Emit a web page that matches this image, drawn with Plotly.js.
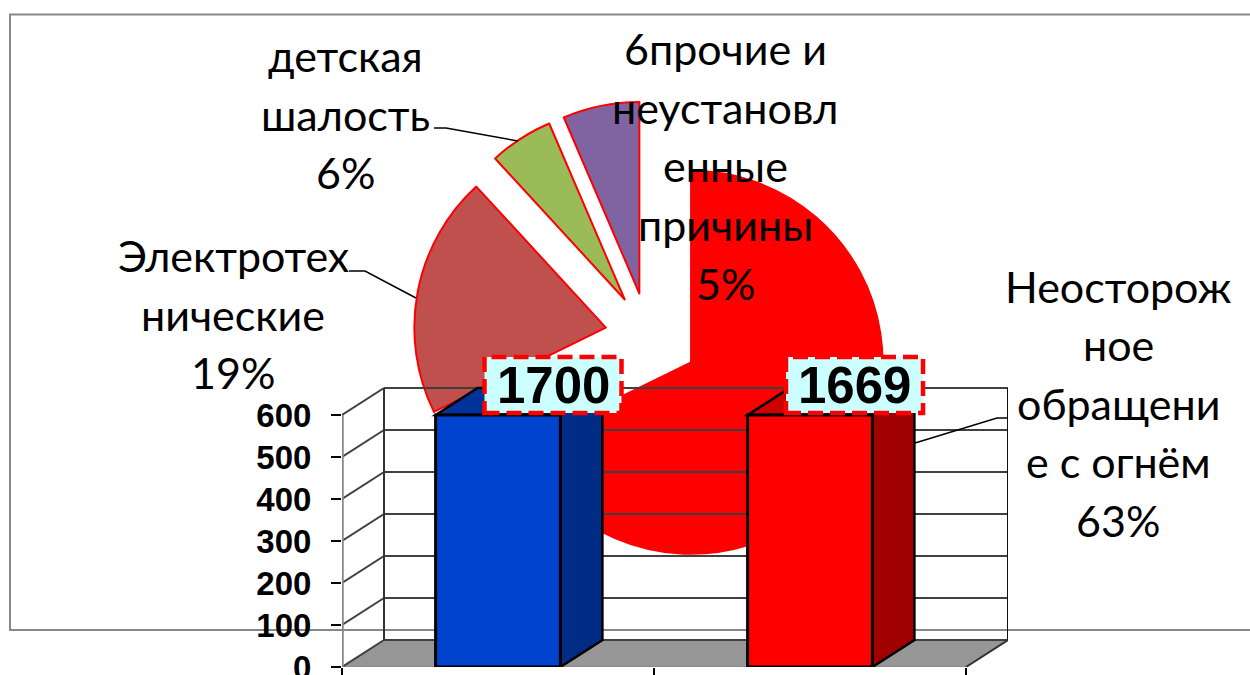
<!DOCTYPE html>
<html>
<head>
<meta charset="utf-8">
<script src="https://cdn.plot.ly/plotly-3.0.1.min.js"></script>
<style>
html,body{margin:0;padding:0;background:#fff;width:1250px;height:675px;overflow:hidden}
#pie,#bars{position:absolute;left:0;top:0;width:1250px;height:675px}
</style>
</head>
<body>
<div id="pie"></div>
<div id="bars"></div>
<script>
// ---------- data ----------
const pieCategories = ['Неосторожное обращение с огнём','Электротехнические','детская шалость','6прочие и неустановленные причины'];
const pieValues = [63, 19, 5, 6];
const pieColors = ['#ff0000','#c0504d','#9bbb59','#8064a2'];
const piePull = [0.265, 0.224, 0.224, 0.224];
const pieLabelLines = [
  ['Неосторож','ное','обращени','е с огнём','63%'],
  ['Электротех','нические','19%'],
  ['детская','шалость','6%'],
  ['6прочие и','неустановл','енные','причины','5%']
];
const barPositions = [0, 1];
const barValues = [1700, 1669];
const barFront = ['#0043cf','#ff0000'];
const barSide = ['#002c85','#a00000'];
const barTop = ['#003399','#cc0000'];
const yTicks = [0,100,200,300,400,500,600];
const axisMax = 600;

// ---------- helpers ----------
const W = 1250, H = 675;
const px = x => x / W, py = y => 1 - y / H;
const path = pts => 'M' + pts.map(p => p[0] + ',' + p[1]).join('L');
const pPath = pts => path(pts.map(p => [px(p[0]), py(p[1])]));

// ---------- pie layer ----------
const cx = 648, cy = 335.5, R = 191.5, half = R * (1 + Math.max(...piePull));
const labelPos = [[1118,403],[233,314],[345,114.5],[725,166]];
const lineGap = 58.5;
const pieAnnotations = [];
pieLabelLines.forEach((lines,i)=>{
  lines.forEach((t,j)=>{
    pieAnnotations.push({
      text:t, xref:'paper', yref:'paper', x:px(labelPos[i][0]),
      y:py(labelPos[i][1] + (j-(lines.length-1)/2)*lineGap),
      xanchor:'center', yanchor:'middle', showarrow:false,
      font:{family:'Lato, "Open Sans", sans-serif', size:43, color:'#000'}
    });
  });
});
Plotly.newPlot('pie', [{
  type:'pie', values:pieValues, labels:pieCategories, sort:false, direction:'clockwise', rotation:0,
  pull:piePull, textinfo:'none', hoverinfo:'none',
  marker:{colors:pieColors, line:{color:'#ff0000', width:2}},
  domain:{x:[px(cx-half), px(cx+half)], y:[py(cy+half), py(cy-half)]}
}], {
  width:W, height:H, margin:{l:0,r:0,t:0,b:0}, showlegend:false,
  paper_bgcolor:'#ffffff',
  shapes:[
    {type:'path', xref:'paper', yref:'paper', path:pPath([[1250,14.5],[10,14.5],[10,630],[1250,630]]), line:{color:'#888888',width:2}},
    {type:'path', xref:'paper', yref:'paper', path:pPath([[434,128],[446,128],[518,141]]), line:{color:'#000',width:1.5}},
    {type:'path', xref:'paper', yref:'paper', path:pPath([[349,271],[365,271],[416,298]]), line:{color:'#000',width:1.5}}
  ],
  annotations: pieAnnotations
}, {staticPlot:true});

// ---------- 3D-look bar layer ----------
const plotL = 342, plotR = 1008, plotT = 340, plotB = 667;
const unitX = 312, unitY = 0.42;
const depthX = 42 / unitX, depthY = 27 / unitY;
const yMax = (plotB - plotT) / unitY;
const barHalf = 0.2;
const clamped = barValues.map(v => Math.min(v, axisMax));
const line = (pts,color,width) => ({type:'path', xref:'x', yref:'y', layer:'below', path:path(pts), line:{color,width}});
const poly = (pts,fill) => ({type:'path', xref:'x', yref:'y', layer:'below', path:path(pts)+'Z', fillcolor:fill, line:{color:'#000',width:2.5}});
const dataX = p => (p - 498) / unitX, dataY = p => (plotB - p) / unitY;

const x0 = -0.5, x1 = 1.5;
const shapes = [];
// floor
shapes.push({type:'path', xref:'x', yref:'y', layer:'below',
  path:path([[x0,0],[x0+depthX,depthY],[x1+depthX,depthY],[x1,0]])+'Z', fillcolor:'#969696', line:{color:'#808080',width:1}});
// walls
yTicks.forEach(t=>{
  shapes.push(line([[x0+depthX,t+depthY],[x1+depthX,t+depthY]],'#404040',2));
  shapes.push(line([[x0,t],[x0+depthX,t+depthY]],'#404040',2));
});
shapes.push(line([[x0+depthX,depthY],[x0+depthX,axisMax+depthY]],'#333',2));
shapes.push(line([[x1+depthX,depthY],[x1+depthX,axisMax+depthY]],'#111',2));
shapes.push(line([[x1,0],[x1+depthX,depthY]],'#333',2));
shapes.push(line([[x0,0],[x0,axisMax]],'#888888',3.5));
// bar depth faces
barPositions.forEach((b,i)=>{
  const v = clamped[i], l = b-barHalf, r = b+barHalf;
  shapes.push(poly([[r,0],[r+depthX,depthY],[r+depthX,v+depthY],[r,v]],barSide[i]));
  shapes.push(poly([[l,v],[l+depthX,v+depthY],[r+depthX,v+depthY],[r,v]],barTop[i]));
});
// value boxes (above the bars)
const boxW = 137, boxH = 56;
const labelX = [barPositions[0]+55/unitX, barPositions[1]+44.5/unitX];
const labelY = dataY(385);
barPositions.forEach((b,i)=>{
  shapes.push({type:'rect', xref:'x', yref:'y', layer:'above',
    x0:labelX[i]-boxW/2/unitX, x1:labelX[i]+boxW/2/unitX,
    y0:labelY-boxH/2/unitY, y1:labelY+boxH/2/unitY,
    fillcolor:'#ccffff', line:{color:'#ff0000',width:4.5,dash:'15px,7px'}});
});
// leader line of the largest slice, in front of the chart wall
shapes.push({type:'path', xref:'x', yref:'y', layer:'above',
  path:path([[dataX(915),dataY(443)],[dataX(997),dataY(418)],[dataX(1008),dataY(418)]]), line:{color:'#000',width:1.5}});

Plotly.newPlot('bars', [{
  type:'bar', x:barPositions, y:clamped, width:0.4, hoverinfo:'none',
  marker:{color:barFront, line:{color:'#000',width:3}}
}], {
  width:W, height:H, showlegend:false,
  margin:{l:plotL, r:W-plotR, t:plotT, b:H-plotB, autoexpand:false},
  paper_bgcolor:'rgba(0,0,0,0)', plot_bgcolor:'rgba(0,0,0,0)',
  xaxis:{range:[x0,x1+depthX], tickvals:[-0.5,0.5,1.5], ticktext:['','',''], ticks:'outside', ticklen:10, tickwidth:2, tickcolor:'#000',
    showgrid:false, zeroline:false, showline:false, fixedrange:true},
  yaxis:{range:[0,yMax], tickvals:yTicks, ticks:'outside', ticklen:10, tickwidth:2, tickcolor:'#000', ticklabelstandoff:13,
    ticklabeloverflow:'allow',
    tickfont:{family:'"Liberation Sans", Arial, sans-serif', size:33, weight:700, color:'#000'},
    showgrid:false, zeroline:false, showline:false, fixedrange:true},
  shapes:shapes,
  annotations: barValues.map((v,i)=>({
    text:'<b>'+v+'</b>', xref:'x', yref:'y', x:labelX[i], y:labelY, showarrow:false,
    xanchor:'center', yanchor:'middle',
    font:{family:'"Liberation Sans", Arial, sans-serif', size:51, color:'#000'}
  }))
}, {staticPlot:true});
</script>
</body>
</html>
